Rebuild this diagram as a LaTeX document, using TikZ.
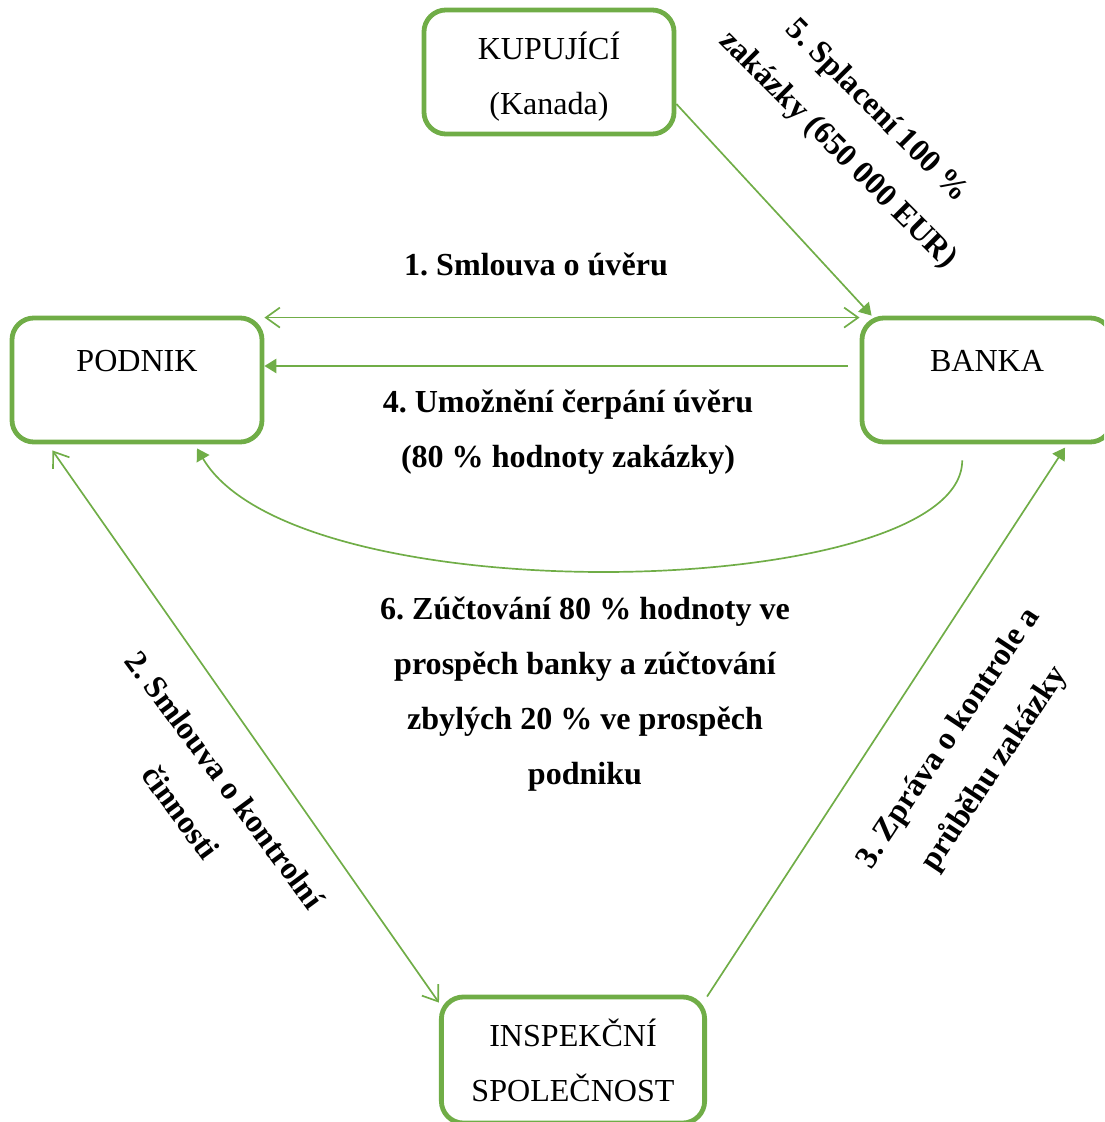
\documentclass[tikz,border=0pt]{standalone}
\usepackage{fontspec}
\setmainfont{Liberation Serif}
\usetikzlibrary{arrows.meta}
\frenchspacing
\definecolor{boxgreen}{HTML}{70AD47}
\newcommand{\boxstrut}{\rule{0pt}{26.5pt}}
\tikzset{
    box/.style={draw=boxgreen,line width=0.12cm,rounded corners=0.55cm,minimum width=6.25cm,minimum height=3.1cm,align=center,font=\fontsize{22.8}{39}\selectfont},
    lab/.style={align=center,font=\bfseries\fontsize{22.8}{39}\selectfont},
    link/.style={draw=boxgreen,line width=1.2pt},
    opentip/.tip={Straight Barb[length=0.35cm,width=0.5cm]},
    fulltip/.tip={Triangle[length=0.3cm,width=0.36cm]}
}
\begin{document}
\begin{tikzpicture}[x=0.025cm,y=-0.025cm]
    \clip (0,0) rectangle (1104,1122);
    \node[box] (kupujici) at (549,72) {\boxstrut KUPUJÍCÍ\\(Kanada)};
    \node[box] (podnik) at (137,380) {\boxstrut PODNIK\\\mbox{}};
    \node[box] (banka) at (987,380) {\boxstrut BANKA\\\mbox{}};
    \node[box,minimum width=6.58cm,minimum height=3.15cm] (inspekce) at (573,1060) {INSPEKČNÍ\\SPOLEČNOST};

    \node[lab] (smlouva) at (536,264) {1. Smlouva o úvěru};
    \node[lab] (kontrola) at (203,796) [rotate=-53.5] {2. Smlouva o kontrolní\\činnosti};
    \node[lab] (zprava) at (972,754) [rotate=56.4] {3. Zpráva o kontrole a\\průběhu zakázky};
    \node[lab] (cerpani) at (568,432) {4. Umožnění čerpání úvěru\\(80 \% hodnoty zakázky)};
    \node[lab] (splaceni) at (857,131) [rotate=-45] {5. Splacení 100 \%\\zakázky (650 000 EUR)};
    \node[lab] (zuctovani) at (585,694) {6. Zúčtování 80 \% hodnoty ve\\prospěch banky a zúčtování\\zbylých 20 \% ve prospěch\\podniku};

    \draw[link,opentip-opentip] ([yshift=-0.05cm]podnik.north east) -- ([yshift=-0.05cm]banka.north west);
    \draw[link,-fulltip,shorten <=0.3cm] ([yshift=0.35cm]banka.west) -- ([yshift=0.35cm]podnik.east);
    \draw[link,-fulltip] ([yshift=-0.8cm]kupujici.east) -- ([xshift=0.3cm]banka.north west);
    \draw[link,-fulltip] ([xshift=-0.62cm,yshift=-0.4cm]banka.south) .. controls +(0,140) and +(100,170) .. ([xshift=1.5cm,yshift=-0.1cm]podnik.south);
    \draw[link,opentip-opentip] ([xshift=1.07cm,yshift=-0.15cm]podnik.south west) -- ([yshift=-0.2cm]inspekce.north west);
    \draw[link,-fulltip] ([yshift=-0.05cm]inspekce.north east) -- ([xshift=1.95cm,yshift=-0.08cm]banka.south);
\end{tikzpicture}
\end{document}
